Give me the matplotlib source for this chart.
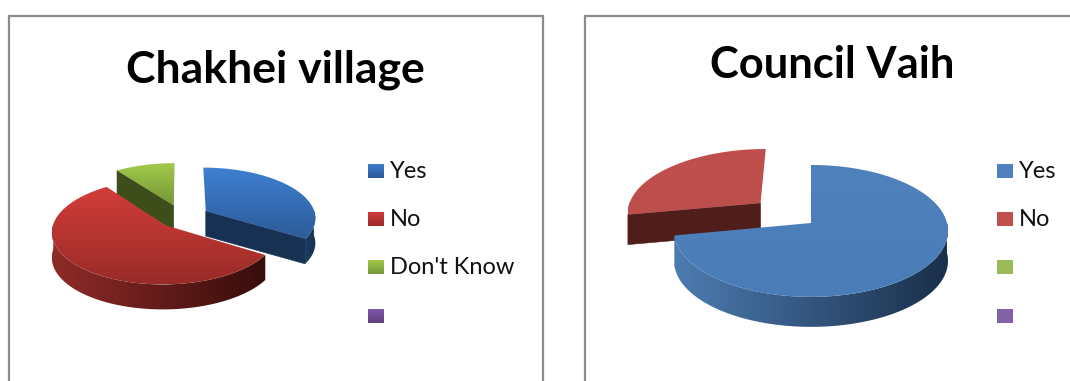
import numpy as np
import matplotlib
matplotlib.use("Agg")
import matplotlib.pyplot as plt
from matplotlib.colors import LinearSegmentedColormap, to_rgb
from matplotlib.patches import Polygon, Rectangle

W, H = 1070, 381

# Survey shares
chakhei_title = "Chakhei village"
chakhei_labels = ["Yes", "No", "Don't Know", ""]
chakhei_values = [34, 56, 10]
chakhei_explode = [0.25, 0.22, 0.25]

vaih_title = "Council Vaih"
vaih_labels = ["Yes", "No", "", ""]
vaih_values = [72, 28]
vaih_explode = [0.0, 0.5]

# (top-face start, top-face end, cut wall, outer wall left, outer wall right)
chakhei_styles = [
    ("#3f80d2", "#2c5b98", "#163152", "#1c3c63", "#16304f"),
    ("#d23d39", "#992b28", "#4a1512", "#8f2b28", "#370d0b"),
    ("#a3cb49", "#76963a", "#3e4e1a", "#5a7028", "#3e4e1a"),
]
vaih_styles = [
    ("#4f81bd", "#4a7cb8", "#1c3350", "#4d7cb2", "#1a2f4a"),
    ("#c0504d", "#bc4e4b", "#4f1d1a", "#6b2825", "#4f1d1a"),
]
chakhei_legend = [("#3f80d2", "#2c5b98"), ("#d23d39", "#992b28"),
                  ("#a3cb49", "#76963a"), ("#8058ab", "#5f4180")]
vaih_legend = [("#4f81bd", "#4f81bd"), ("#c0504d", "#c0504d"),
               ("#9bbb59", "#9bbb59"), ("#8064a2", "#8064a2")]

FRAME = "#8c8c8c"
PERSPECTIVE = 0.12
STEPS = 180
LEGEND_SIZE = 17


def project(u, v, geo):
    """Tilted-disc projection: points nearer the viewer spread out a little."""
    s = 1.0 / (1.0 - PERSPECTIVE * v)
    return geo["cx"] + geo["a"] * u * s, geo["cy"] + geo["b"] * v * s


def gradient_fill(ax, patch, x0, x1, y0, y1, c0, c1, zorder, horizontal=False):
    cmap = LinearSegmentedColormap.from_list("g", [to_rgb(c0), to_rgb(c1)])
    ramp = np.linspace(0, 1, 128)
    ramp = ramp[None, :] if horizontal else ramp[:, None]
    im = ax.imshow(ramp, cmap=cmap, extent=(x0, x1, y1, y0), origin="upper",
                   aspect="auto", interpolation="bilinear", vmin=0, vmax=1,
                   zorder=zorder)
    im.set_clip_path(patch)


def draw_pie(ax, values, explode, styles, geo, order):
    fractions = np.asarray(values, float) / np.sum(values)
    edges = np.concatenate([[0], np.cumsum(fractions)]) * 2 * np.pi
    d = geo["depth"]
    for rank, i in enumerate(order):
        base = 2 + rank * 3
        start, end = edges[i], edges[i + 1]
        t = np.linspace(start, end, STEPS)
        mid = 0.5 * (start + end)
        ou, ov = np.sin(mid) * explode[i], -np.cos(mid) * explode[i]
        arc_x, arc_y = project(ou + np.sin(t), ov - np.cos(t), geo)
        ax0, ay0 = project(ou, ov, geo)
        top, bottom, cut, wall_l, wall_r = styles[i]

        # Outer rim: only the part turned towards the viewer
        front = -np.cos(t) > -0.02
        if front.any():
            fx, fy = arc_x[front], arc_y[front]
            rim = Polygon(np.c_[np.r_[fx, fx[::-1]], np.r_[fy, fy[::-1] + d]],
                          closed=True, fc="none", ec="none", zorder=base)
            ax.add_patch(rim)
            gradient_fill(ax, rim, fx.min(), fx.max(), 0, H, wall_l, wall_r, base, horizontal=True)

        # Straight cut faces that turn towards the viewer
        if np.sin(end) > 1e-6:
            ex, ey = arc_x[-1], arc_y[-1]
            ax.add_patch(Polygon([(ax0, ay0), (ex, ey), (ex, ey + d), (ax0, ay0 + d)],
                                 closed=True, fc=cut, ec=cut, lw=0.4, zorder=base + 1))
        if -np.sin(start) > 1e-6:
            ex, ey = arc_x[0], arc_y[0]
            ax.add_patch(Polygon([(ax0, ay0), (ex, ey), (ex, ey + d), (ax0, ay0 + d)],
                                 closed=True, fc=cut, ec=cut, lw=0.4, zorder=base + 1))

        # Top face
        xs = np.r_[ax0, arc_x]
        ys = np.r_[ay0, arc_y]
        face = Polygon(np.c_[xs, ys], closed=True, fc="none", ec="none", zorder=base + 2)
        ax.add_patch(face)
        gradient_fill(ax, face, xs.min(), xs.max(), ys.min(), ys.max(), top, bottom, base + 2)


def draw_frame(ax, x0, x1, y0):
    xs = [x0, x0, x1, x1] if x1 < W else [x0, x0, x1]
    ys = [H + 5, y0, y0, H + 5] if x1 < W else [H + 5, y0, y0]
    ax.plot(xs, ys, color=FRAME, lw=1.6, solid_joinstyle="miter", zorder=1)


def draw_legend(ax, labels, colours, box_x, text_x, rows):
    for label, (c0, c1), y in zip(labels, colours, rows):
        box = Rectangle((box_x, y - 7.5), 16, 15, fc="none", ec="none", zorder=20)
        ax.add_patch(box)
        gradient_fill(ax, box, box_x, box_x + 16, y - 7.5, y + 7.5, c0, c1, 20)
        if label:
            ax.text(text_x, y + 0.5, label, fontsize=LEGEND_SIZE, family="Lato",
                    va="center", ha="left", color="#111111", zorder=21)


fig = plt.figure(figsize=(W / 100, H / 100), dpi=100, facecolor="white")
ax = fig.add_axes([0, 0, 1, 1])
ax.axis("off")

draw_frame(ax, 9, 543, 16)
draw_frame(ax, 585, W + 5, 16)

ax.text(275.5, 70, chakhei_title, fontsize=32, fontweight="bold", family="Lato",
        ha="center", va="center", color="black")
ax.text(832, 65, vaih_title, fontsize=31.3, fontweight="bold", family="Lato",
        ha="center", va="center", color="black")

draw_pie(ax, chakhei_values, chakhei_explode, chakhei_styles,
         dict(cx=182, cy=217, a=110, b=50, depth=25), order=[2, 0, 1])
draw_pie(ax, vaih_values, vaih_explode, vaih_styles,
         dict(cx=811, cy=223, a=136, b=65, depth=30), order=[1, 0])

draw_legend(ax, chakhei_labels, chakhei_legend, 368, 390, [171, 219, 267, 316])
draw_legend(ax, vaih_labels, vaih_legend, 997, 1019, [171, 219, 267, 316])

ax.set_xlim(0, W)
ax.set_ylim(H, 0)
fig.savefig("out.png", dpi=100, facecolor="white")
